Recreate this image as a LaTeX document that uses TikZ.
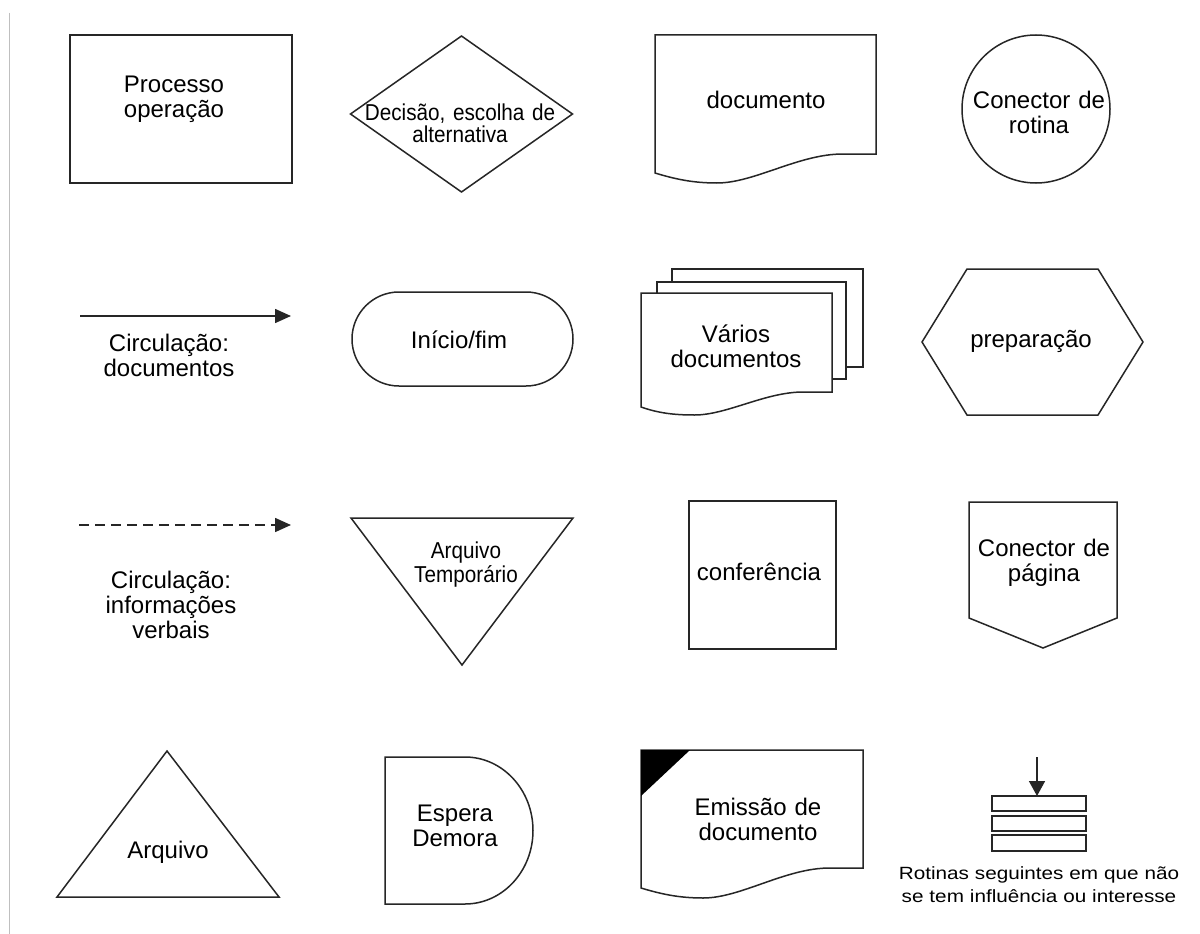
\documentclass[tikz,border=0pt]{standalone}
\usepackage{fontspec}
\setmainfont{Liberation Sans}
\newfontfamily\condfont[FakeStretch=0.9]{Liberation Sans}
\newfontfamily\widefont[FakeStretch=1.17]{Liberation Sans}
\usetikzlibrary{shapes.geometric,shapes.misc,arrows.meta}
% #1 style, #2 left, #3 width, #4 top, #5 right-bottom, #6 left-bottom, #7 wave minimum
\newcommand{\docshape}[7]{%
  \draw[#1] (#2,#4) -- ({#2+#3},#4) -- ({#2+#3},#5) -- ({#2+0.85*#3},#5)
    .. controls ({#2+0.65*#3},#5) and ({#2+0.45*#3},#7) .. ({#2+0.28*#3},#7)
    .. controls ({#2+0.17*#3},#7) and ({#2+0.09*#3},{#6+6}) .. (#2,#6) -- cycle;}
\begin{document}
\begin{tikzpicture}[x=1pt,y=-1pt,
  shp/.style={draw=black!85,line width=1.5pt,fill=white,inner sep=0pt,outer sep=0pt},
  lbl/.style={font=\fontsize{24}{25}\selectfont,align=center,text width=320pt,inner sep=0pt,anchor=base},
  lblc/.style={font=\condfont\fontsize{23}{21}\selectfont,align=center,text width=320pt,inner sep=0pt,anchor=base},
  lblt/.style={font=\condfont\fontsize{23}{24}\selectfont,align=center,text width=320pt,inner sep=0pt,anchor=base},
  lblw/.style={font=\widefont\fontsize{17.7}{23}\selectfont,align=center,text width=320pt,inner sep=0pt,anchor=base},
  flow/.style={draw=black!85,line width=1.6pt,-{Triangle[length=16pt,width=14pt]}},
  flowdash/.style={flow,dash pattern=on 10pt off 6pt},
  bar/.style={draw=black!85,line width=1.5pt,fill=white}
]
\useasboundingbox (0,0) rectangle (1200,934);
\fill[white] (0,0) rectangle (1200,934);
% page edge
\coordinate (edgeTop) at (9.5,13);
\coordinate (edgeBot) at (9.5,934);
\draw[black!25,line width=1.5pt] (edgeTop) -- (edgeBot);

% ---------- row 1 ----------
\node[shp,rectangle,minimum width=222,minimum height=148] (proc) at (181,109) {};
\node[lbl] (procT) at (174,92.5) {Processo\\operação};

\node[shp,diamond,minimum width=222,minimum height=156] (dec) at (461.5,114) {};
\node[lblc] (decT) at (460,121) {Decisão, escolha de\\alternativa};

\docshape{shp}{655}{221}{35}{154}{173}{183}
\node[lbl] (docT) at (766,108) {documento};

\node[shp,circle,minimum size=148] (con) at (1036,109) {};
\node[lbl] (conT) at (1039,108) {Conector de\\rotina};

% ---------- row 2 ----------
\coordinate (f1s) at (80,316);
\coordinate (f1e) at (291,316);
\draw[flow] (f1s) -- (f1e);
\node[lbl] (f1T) at (169,351) {Circulação:\\documentos};

\node[shp,rounded rectangle,minimum width=221,minimum height=94] (ini) at (462.5,339) {};
\node[lbl] (iniT) at (459,348) {Início/fim};

\draw[shp] (672,269) rectangle (863,367);
\draw[shp] (657,282) rectangle (846,379);
\docshape{shp}{641}{191}{293}{392}{407}{415}
\node[lbl] (varT) at (736,342) {Vários\\documentos};

\draw[shp] (922,342) -- (967,269) -- (1098,269) -- (1143,342) -- (1098,415) -- (967,415) -- cycle;
\node[lbl] (prepT) at (1031,347) {preparação};

% ---------- row 3 ----------
\coordinate (f2s) at (79,525);
\coordinate (f2e) at (291,525);
\draw[flowdash] (f2s) -- (f2e);
\node[lbl] (f2T) at (171,588) {Circulação:\\informações\\verbais};

\draw[shp] (351,518) -- (573,518) -- (462,665) -- cycle;
\node[lblt] (tmpT) at (466,558) {Arquivo\\Temporário};

\node[shp,rectangle,minimum width=147,minimum height=148] (conf) at (762.5,575) {};
\node[lbl] (confT) at (759,580) {conferência};

\draw[shp] (969,502) -- (1117,502) -- (1117,618) -- (1043,648) -- (969,618) -- cycle;
\node[lbl] (pagT) at (1044,556) {Conector de\\página};

% ---------- row 4 ----------
\draw[shp] (167,751) -- (279,897) -- (57,897) -- cycle;
\node[lbl] (arqT) at (168,858) {Arquivo};

\draw[shp] (465,757) -- (385,757) -- (385,904) -- (465,904)
  .. controls (502.6,904) and (533,871.1) .. (533,830.5)
  .. controls (533,789.9) and (502.6,757) .. (465,757) -- cycle;
\node[lbl] (espT) at (455,821.5) {Espera\\Demora};

\docshape{shp}{641}{222}{750}{868}{888}{898}
\fill[black] (641,750) -- (690,750) -- (641,796) -- cycle;
\node[lbl] (emiT) at (758,815.5) {Emissão de\\documento};

\coordinate (f3s) at (1037,757);
\coordinate (f3e) at (1037,796);
\draw[flow,-{Triangle[length=15pt,width=16pt]}] (f3s) -- (f3e);
\draw[bar] (992,796) rectangle (1086,811);
\draw[bar] (992,816) rectangle (1086,831);
\draw[bar] (992,835) rectangle (1086,851);
\node[lblw] (rotT) at (1039,879) {Rotinas seguintes em que não\\se tem influência ou interesse};
\end{tikzpicture}
\end{document}
